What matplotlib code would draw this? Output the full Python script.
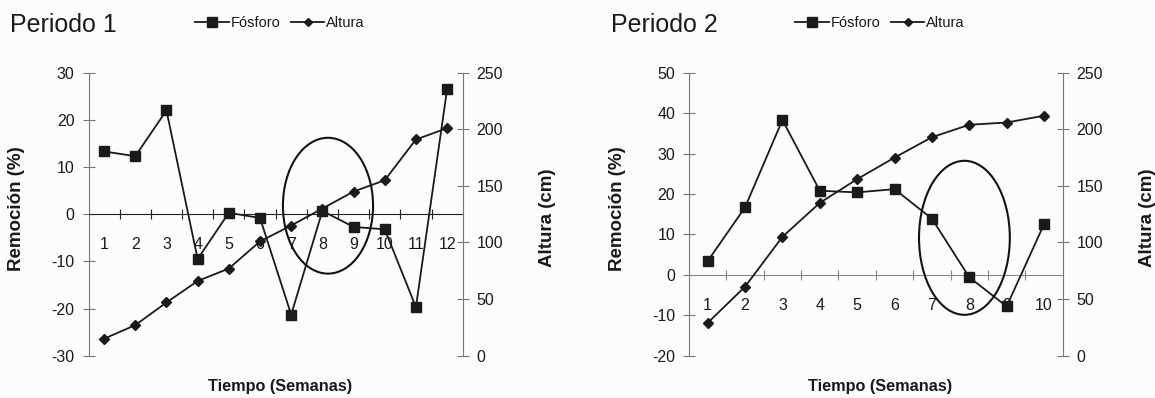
import matplotlib.pyplot as plt
from matplotlib.patches import Ellipse
from matplotlib.lines import Line2D

plt.rcParams['font.family'] = ['Liberation Sans', 'DejaVu Sans']
plt.rcParams['axes.unicode_minus'] = False

# Periodo 1
semanas_1 = [1, 2, 3, 4, 5, 6, 7, 8, 9, 10, 11, 12]
fosforo_1 = [13.3, 12.3, 22.0, -9.5, 0.3, -0.8, -21.3, 0.7, -2.7, -3.2, -19.7, 26.5]
altura_1 = [15, 27, 47, 66, 77, 101, 115, 130, 145, 155, 191, 201]

# Periodo 2
semanas_2 = [1, 2, 3, 4, 5, 6, 7, 8, 9, 10]
fosforo_2 = [3.4, 16.7, 38.3, 20.8, 20.4, 21.2, 13.9, -0.6, -7.8, 12.5]
altura_2 = [29, 61, 105, 135, 156, 175, 193, 204, 206, 212]

# circulos marcados a mano (centro x, centro y, ancho, alto)
circulo_1 = (8.18, 1.8, 2.89, 28.8)
circulo_2 = (7.87, 9.16, 2.43, 38.1)

W, H = 1155, 398
BG = "#fcfcfa"
INK = "#1a1a1a"
SPINE = "#777777"

fig = plt.figure(figsize=(W / 100, H / 100), dpi=100, facecolor=BG)


def panel(left_px, right_px, x, fos, alt, ylim, ystep, zero_color, circ,
          title, title_x, legend_x):
    ax = fig.add_axes([left_px / W, (H - 355.7) / H,
                       (right_px - left_px) / W, 283 / H])
    ax.set_facecolor(BG)
    n = len(x)
    ax.plot(x, fos, color=INK, lw=1.3, marker="s", ms=7.8, zorder=3)
    ax.set_xlim(0.5, n + 0.5)
    ax.set_ylim(*ylim)
    ax.set_yticks(range(ylim[0], ylim[1] + 1, ystep))
    for s in ["top", "right"]:
        ax.spines[s].set_visible(False)
    ax.spines["left"].set_color(SPINE)
    ax.spines["bottom"].set_position(("data", 0))
    ax.spines["bottom"].set_color(zero_color)
    ax.set_xticks([i + 0.5 for i in range(1, n)])
    ax.set_xticklabels([])
    ax.set_xticks(x, minor=True)
    ax.set_xticklabels([str(v) for v in x], minor=True)
    ax.tick_params(axis="x", which="major", direction="inout", length=7.5,
                   color=zero_color)
    ax.tick_params(axis="x", which="minor", length=0, pad=16.5,
                   labelsize=11.5, labelcolor=INK)
    ax.tick_params(axis="y", direction="inout", length=9, color=SPINE,
                   labelsize=11.5, labelcolor=INK, pad=5.5)

    e = Ellipse(circ[:2], circ[2], circ[3], fill=False, lw=1.5,
                edgecolor="#1a1010", zorder=5)
    ax.add_patch(e)

    ax2 = ax.twinx()
    ax2.plot(x, alt, color=INK, lw=1.3, marker="D", ms=5.2, zorder=3)
    ax2.set_ylim(0, 250)
    ax2.set_yticks(range(0, 251, 50))
    for s in ["top", "left", "bottom"]:
        ax2.spines[s].set_visible(False)
    ax2.spines["right"].set_color(SPINE)
    ax2.tick_params(axis="y", direction="inout", length=9, color=SPINE,
                    labelsize=11.5, labelcolor=INK, pad=5.5)

    fig.text((left_px - 72) / W, 1 - 209 / H, "Remoción (%)", rotation=90,
             ha="center", va="center", fontsize=13.5, fontweight="bold",
             color=INK)
    fig.text((right_px + 85) / W, 1 - 218 / H, "Altura (cm)", rotation=90,
             ha="center", va="center", fontsize=13.5, fontweight="bold",
             color=INK)
    fig.text((left_px + right_px) / 2 / W + 4 / W, 1 - 387 / H,
             "Tiempo (Semanas)", ha="center", va="center", fontsize=11.7,
             fontweight="bold", color=INK)
    fig.text(title_x / W, 1 - 32 / H, title, ha="left", va="baseline",
             fontsize=18, color=INK)

    handles = [Line2D([], [], color=INK, lw=1.3, marker="s", ms=7),
               Line2D([], [], color=INK, lw=1.3, marker="D", ms=4.5)]
    fig.legend(handles, ["Fósforo", "Altura"], loc="center",
               bbox_to_anchor=(legend_x / W, 1 - 23 / H), ncol=2,
               frameon=False, fontsize=10.5, handlelength=2.3,
               handletextpad=0.15, columnspacing=0.7, labelcolor=INK)


panel(88.5, 462.7, semanas_1, fosforo_1, altura_1, (-30, 30), 10, "#222222",
      circulo_1, "Periodo 1", 10, 280)
panel(689, 1062.7, semanas_2, fosforo_2, altura_2, (-20, 50), 10, "#888888",
      circulo_2, "Periodo 2", 611, 880)

fig.savefig("out.png", dpi=100, facecolor=BG)
